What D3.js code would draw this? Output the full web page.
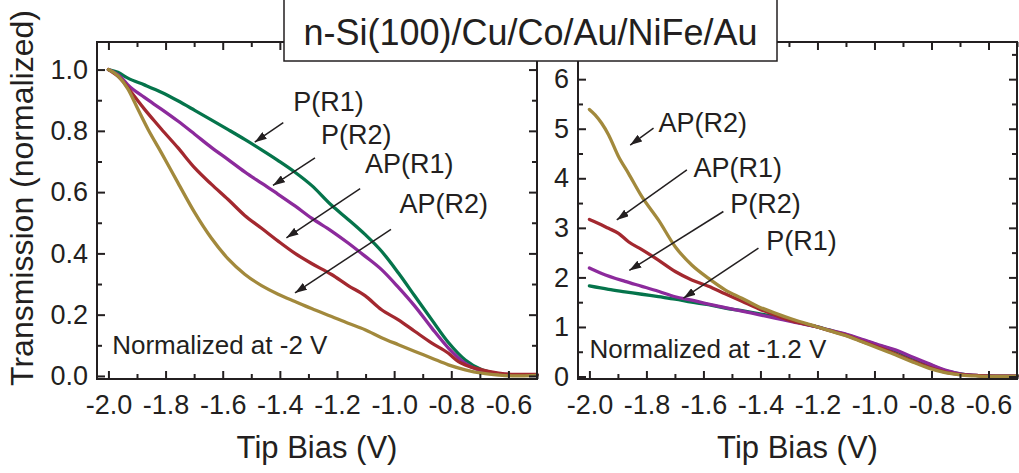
<!DOCTYPE html>
<html>
<head>
<meta charset="utf-8">
<script src="https://cdn.jsdelivr.net/npm/d3@7"></script>
<style>
  body { margin: 0; background: #fff; }
  svg { display: block; font-family: 'Liberation Sans', Arial, sans-serif; }
</style>
</head>
<body>
<svg id="chart" width="1019" height="473"></svg>
<script>
/**
 * @fileoverview Draws the two tip bias transmission panels.
 */

// Left panel, normalized at -2 V. Pairs are [tip bias (V), transmission].
var leftPR1 = [[-2.0, 1.0], [-1.967, 0.991], [-1.932, 0.972], [-1.874, 0.95],
  [-1.815, 0.926], [-1.757, 0.898], [-1.698, 0.867], [-1.64, 0.836],
  [-1.581, 0.804], [-1.523, 0.772], [-1.464, 0.738], [-1.406, 0.703],
  [-1.347, 0.665], [-1.289, 0.622], [-1.219, 0.557], [-1.161, 0.511],
  [-1.102, 0.462], [-1.044, 0.407], [-0.985, 0.336], [-0.927, 0.26],
  [-0.868, 0.183], [-0.81, 0.109], [-0.751, 0.052], [-0.693, 0.02],
  [-0.634, 0.007], [-0.576, 0.003], [-0.5, 0.003]];
var leftPR2 = [[-2.0, 1.0], [-1.956, 0.975], [-1.932, 0.95], [-1.874, 0.909],
  [-1.815, 0.871], [-1.757, 0.832], [-1.698, 0.789], [-1.64, 0.746],
  [-1.581, 0.706], [-1.523, 0.666], [-1.464, 0.629], [-1.406, 0.593],
  [-1.347, 0.555], [-1.289, 0.515], [-1.219, 0.473], [-1.161, 0.434],
  [-1.102, 0.391], [-1.044, 0.347], [-0.985, 0.289], [-0.927, 0.227],
  [-0.868, 0.156], [-0.81, 0.091], [-0.751, 0.041], [-0.693, 0.016],
  [-0.634, 0.007], [-0.576, 0.004], [-0.5, 0.004]];
var leftAPR1 = [[-2.0, 1.0], [-1.956, 0.969], [-1.92, 0.926], [-1.874, 0.871],
  [-1.839, 0.832], [-1.815, 0.806], [-1.757, 0.745], [-1.698, 0.679],
  [-1.64, 0.626], [-1.581, 0.576], [-1.523, 0.524], [-1.464, 0.482],
  [-1.406, 0.44], [-1.347, 0.4], [-1.289, 0.367], [-1.219, 0.331],
  [-1.161, 0.295], [-1.102, 0.262], [-1.044, 0.216], [-0.985, 0.183],
  [-0.927, 0.145], [-0.868, 0.107], [-0.81, 0.074], [-0.775, 0.047],
  [-0.751, 0.036], [-0.693, 0.02], [-0.634, 0.009], [-0.576, 0.005],
  [-0.5, 0.005]];
var leftAPR2 = [[-2.0, 1.0], [-1.967, 0.98], [-1.932, 0.937], [-1.897, 0.871],
  [-1.862, 0.806], [-1.815, 0.729], [-1.757, 0.631], [-1.698, 0.533],
  [-1.64, 0.45], [-1.581, 0.382], [-1.523, 0.332], [-1.464, 0.295],
  [-1.406, 0.267], [-1.347, 0.243], [-1.289, 0.22], [-1.219, 0.194],
  [-1.161, 0.172], [-1.102, 0.151], [-1.044, 0.125], [-0.985, 0.102],
  [-0.927, 0.08], [-0.868, 0.058], [-0.81, 0.036], [-0.751, 0.02],
  [-0.693, 0.009], [-0.634, 0.003], [-0.576, 0.0], [-0.5, 0.002]];

// Right panel, normalized at -1.2 V.
var rightPR1 = [[-2.0, 1.83], [-1.933, 1.76], [-1.875, 1.71], [-1.816, 1.66],
  [-1.758, 1.61], [-1.699, 1.56], [-1.641, 1.5], [-1.582, 1.45],
  [-1.524, 1.38], [-1.465, 1.33], [-1.407, 1.27], [-1.349, 1.2],
  [-1.261, 1.08], [-1.2, 1.0], [-1.161, 0.94], [-1.103, 0.85],
  [-1.044, 0.74], [-0.986, 0.63], [-0.927, 0.52], [-0.869, 0.38],
  [-0.81, 0.25], [-0.752, 0.12], [-0.693, 0.05], [-0.635, 0.02],
  [-0.576, 0.01], [-0.5, 0.01]];
var rightPR2 = [[-2.0, 2.19], [-1.957, 2.08], [-1.875, 1.92], [-1.816, 1.82],
  [-1.758, 1.72], [-1.699, 1.61], [-1.641, 1.54], [-1.582, 1.46],
  [-1.524, 1.39], [-1.465, 1.32], [-1.407, 1.25], [-1.349, 1.18],
  [-1.29, 1.11], [-1.2, 1.0], [-1.161, 0.94], [-1.103, 0.86],
  [-1.044, 0.75], [-0.986, 0.64], [-0.927, 0.54], [-0.869, 0.4],
  [-0.81, 0.26], [-0.752, 0.13], [-0.693, 0.05], [-0.635, 0.02],
  [-0.576, 0.01], [-0.5, 0.01]];
var rightAPR1 = [[-2.0, 3.17], [-1.968, 3.09], [-1.933, 2.99], [-1.898, 2.89],
  [-1.863, 2.72], [-1.816, 2.56], [-1.758, 2.35], [-1.699, 2.12],
  [-1.641, 1.95], [-1.582, 1.82], [-1.524, 1.67], [-1.465, 1.52],
  [-1.407, 1.37], [-1.349, 1.24], [-1.29, 1.12], [-1.2, 1.0],
  [-1.161, 0.93], [-1.103, 0.84], [-1.044, 0.71], [-0.986, 0.59],
  [-0.927, 0.46], [-0.869, 0.32], [-0.81, 0.19], [-0.752, 0.09],
  [-0.693, 0.04], [-0.635, 0.02], [-0.576, 0.01], [-0.5, 0.01]];
var rightAPR2 = [[-2.0, 5.39], [-1.98, 5.28], [-1.957, 5.11], [-1.933, 4.88],
  [-1.898, 4.44], [-1.863, 4.1], [-1.816, 3.63], [-1.758, 3.16],
  [-1.699, 2.62], [-1.641, 2.25], [-1.582, 1.98], [-1.524, 1.75],
  [-1.465, 1.58], [-1.407, 1.41], [-1.349, 1.28], [-1.29, 1.16],
  [-1.2, 1.0], [-1.161, 0.93], [-1.103, 0.83], [-1.044, 0.7],
  [-0.986, 0.57], [-0.927, 0.44], [-0.869, 0.3], [-0.81, 0.17],
  [-0.752, 0.08], [-0.693, 0.03], [-0.635, 0.01], [-0.576, 0.0],
  [-0.5, 0.01]];

// Tick values.
var xMajorTicks = [-2.0, -1.8, -1.6, -1.4, -1.2, -1.0, -0.8, -0.6];
var xMinorTicks = [-1.9, -1.7, -1.5, -1.3, -1.1, -0.9, -0.7, -0.5];
var leftYMajorTicks = [0, 0.2, 0.4, 0.6, 0.8, 1.0];
var leftYMinorTicks = [0.1, 0.3, 0.5, 0.7, 0.9];
var rightYMajorTicks = [0, 1, 2, 3, 4, 5, 6];
var rightYMinorTicks = [0.5, 1.5, 2.5, 3.5, 4.5, 5.5, 6.5];

// Arrow labels, in data units: label anchor, arrow tail, arrow head.
var leftNotes = [
  {text: 'P(R1)', at: [-1.353, 0.865], from: [-1.388, 0.827], to: [-1.488, 0.763]},
  {text: 'P(R2)', at: [-1.256, 0.756], from: [-1.277, 0.712], to: [-1.424, 0.622]},
  {text: 'AP(R1)', at: [-1.102, 0.663], from: [-1.119, 0.611], to: [-1.377, 0.451]},
  {text: 'AP(R2)', at: [-0.981, 0.533], from: [-1.011, 0.478], to: [-1.347, 0.271]}
];
var rightNotes = [
  {text: 'AP(R2)', at: [-1.758, 4.94], from: [-1.775, 5.01], to: [-1.857, 4.67]},
  {text: 'AP(R1)', at: [-1.635, 4.03], from: [-1.658, 4.17], to: [-1.904, 3.16]},
  {text: 'P(R2)', at: [-1.506, 3.29], from: [-1.53, 3.33], to: [-1.86, 2.14]},
  {text: 'P(R1)', at: [-1.38, 2.55], from: [-1.407, 2.59], to: [-1.67, 1.58]}
];

var INK = '#231f20';
var COLORS = {
  pr1: '#05744b',
  pr2: '#8c2a9c',
  apr1: '#a3282f',
  apr2: '#a2893c'
};
var FRAME_TOP = 42;
var FRAME_BOTTOM = 379;
var X_DOMAIN = [-2.04, -0.5];
var TICK_FONT = 27;

var svg = d3.select('#chart');

svg.append('defs').append('marker').
    attr('id', 'head').
    attr('markerUnits', 'userSpaceOnUse').
    attr('markerWidth', 12).
    attr('markerHeight', 8).
    attr('refX', 12).
    attr('refY', 4).
    attr('orient', 'auto').
    append('path').
    attr('d', 'M0,0 L12,4 L0,8 Z').
    attr('fill', INK);


/**
 * Draws one axis group and styles it.
 * @param {Object} g Parent selection.
 * @param {Function} axis The configured d3 axis.
 * @param {string} transform Group transform.
 * @return {Object} The axis group.
 */
function addAxis(g, axis, transform) {
  var a = g.append('g').
      attr('transform', transform).
      call(axis);
  a.select('.domain').remove();
  a.attr('font-family', null).attr('font-size', TICK_FONT).
      style('color', INK);
  a.selectAll('line').attr('stroke-width', 2);
  return a;
}


/**
 * Draws a full panel: curves, ticks, frame and notes.
 * @param {Object} cfg Panel settings.
 */
function drawPanel(cfg) {
  var x = d3.scaleLinear().domain(X_DOMAIN).range([cfg.left, cfg.right]);
  var y = d3.scaleLinear().domain(cfg.yDomain).
      range([FRAME_BOTTOM, FRAME_TOP]);
  var g = svg.append('g');

  var line = d3.line().
      x(function(d) { return x(d[0]); }).
      y(function(d) { return y(d[1]); }).
      curve(d3.curveMonotoneX);

  cfg.series.forEach(function(s) {
    g.append('path').
        datum(s.values).
        attr('d', line).
        attr('fill', 'none').
        attr('stroke', s.color).
        attr('stroke-width', 3.3).
        attr('stroke-linejoin', 'round').
        attr('stroke-linecap', 'round');
  });

  var fmtX = function(d) { return d.toFixed(1); };
  var bottom = 'translate(0,' + FRAME_BOTTOM + ')';
  var top = 'translate(0,' + FRAME_TOP + ')';
  var leftT = 'translate(' + cfg.left + ',0)';
  var rightT = 'translate(' + cfg.right + ',0)';

  // Major and minor ticks on all four sides, pointing inward.
  addAxis(g, d3.axisBottom(x).tickValues(xMajorTicks).tickFormat(fmtX).
      tickSize(-8).tickPadding(16), bottom);
  addAxis(g, d3.axisBottom(x).tickValues(xMinorTicks).tickFormat('').
      tickSize(-5), bottom);
  addAxis(g, d3.axisTop(x).tickValues(xMajorTicks).tickFormat('').
      tickSize(-8), top);
  addAxis(g, d3.axisTop(x).tickValues(xMinorTicks).tickFormat('').
      tickSize(-5), top);
  addAxis(g, d3.axisLeft(y).tickValues(cfg.yMajor).tickFormat(cfg.yFormat).
      tickSize(-8).tickPadding(9), leftT);
  addAxis(g, d3.axisLeft(y).tickValues(cfg.yMinor).tickFormat('').
      tickSize(-5), leftT);
  addAxis(g, d3.axisRight(y).tickValues(cfg.yMajor).tickFormat('').
      tickSize(-8), rightT);
  addAxis(g, d3.axisRight(y).tickValues(cfg.yMinor).tickFormat('').
      tickSize(-5), rightT);

  g.append('rect').
      attr('x', cfg.left).
      attr('y', FRAME_TOP).
      attr('width', cfg.right - cfg.left).
      attr('height', FRAME_BOTTOM - FRAME_TOP).
      attr('fill', 'none').
      attr('stroke', INK).
      attr('stroke-width', 2);

  // Arrow notes.
  cfg.notes.forEach(function(n) {
    g.append('line').
        attr('x1', x(n.from[0])).attr('y1', y(n.from[1])).
        attr('x2', x(n.to[0])).attr('y2', y(n.to[1])).
        attr('stroke', INK).
        attr('stroke-width', 1.5).
        attr('marker-end', 'url(#head)');
    g.append('text').
        attr('x', x(n.at[0])).attr('y', y(n.at[1])).
        attr('font-size', 27).
        attr('fill', INK).
        text(n.text);
  });

  g.append('text').
      attr('x', x(cfg.normAt[0])).attr('y', y(cfg.normAt[1])).
      attr('font-size', 26).
      attr('fill', INK).
      text(cfg.normText);

  g.append('text').
      attr('x', (cfg.left + cfg.right) / 2).
      attr('y', 458).
      attr('text-anchor', 'middle').
      attr('font-size', 31).
      attr('fill', INK).
      text('Tip Bias (V)');
}

drawPanel({
  left: 97,
  right: 537,
  yDomain: [-0.01, 1.09],
  yMajor: leftYMajorTicks,
  yMinor: leftYMinorTicks,
  yFormat: function(d) { return d.toFixed(1); },
  series: [
    {values: leftPR1, color: COLORS.pr1},
    {values: leftPR2, color: COLORS.pr2},
    {values: leftAPR1, color: COLORS.apr1},
    {values: leftAPR2, color: COLORS.apr2}
  ],
  notes: leftNotes,
  normAt: [-1.987, 0.07],
  normText: 'Normalized at -2 V'
});

drawPanel({
  left: 578,
  right: 1017,
  yDomain: [-0.05, 6.75],
  yMajor: rightYMajorTicks,
  yMinor: rightYMinorTicks,
  yFormat: function(d) { return String(d); },
  series: [
    {values: rightPR1, color: COLORS.pr1},
    {values: rightPR2, color: COLORS.pr2},
    {values: rightAPR1, color: COLORS.apr1},
    {values: rightAPR2, color: COLORS.apr2}
  ],
  notes: rightNotes,
  normAt: [-2.0, 0.37],
  normText: 'Normalized at -1.2 V'
});

// Y axis title.
svg.append('text').
    attr('transform', 'translate(33,198) rotate(-90)').
    attr('text-anchor', 'middle').
    attr('font-size', 32).
    attr('fill', INK).
    text('Transmission (normalized)');

// Title box across both panels.
svg.append('rect').
    attr('x', 284).
    attr('y', -2).
    attr('width', 493).
    attr('height', 63).
    attr('fill', '#fff').
    attr('stroke', INK).
    attr('stroke-width', 1.5);
svg.append('text').
    attr('x', 530.5).
    attr('y', 45).
    attr('text-anchor', 'middle').
    attr('font-size', 36).
    attr('fill', INK).
    text('n-Si(100)/Cu/Co/Au/NiFe/Au');
</script>
</body>
</html>
